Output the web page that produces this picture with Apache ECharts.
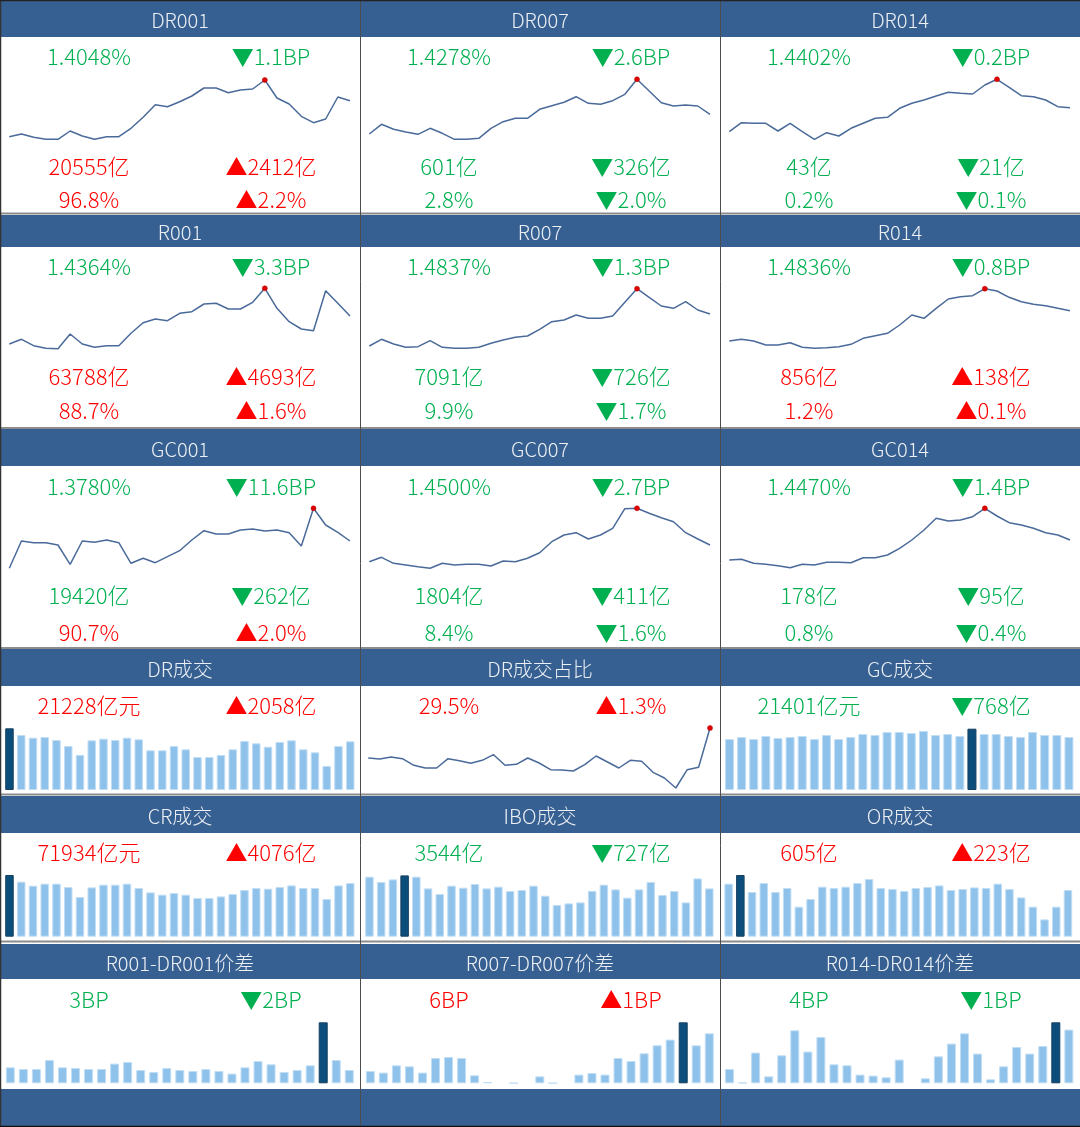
<!DOCTYPE html>
<html><head><meta charset="utf-8">
<script src="https://cdn.jsdelivr.net/npm/echarts@6/dist/echarts.min.js"></script>
<style>html,body{margin:0;padding:0;background:#fff}#c{width:1080px;height:1127px}</style>
</head><body><div id="c"></div>
<script>
// ---------- titles ----------
const headerTitles = [
  ['DR001','DR007','DR014'],
  ['R001','R007','R014'],
  ['GC001','GC007','GC014'],
  ['DR成交','DR成交占比','GC成交'],
  ['CR成交','IBO成交','OR成交'],
  ['R001-DR001价差','R007-DR007价差','R014-DR014价差']
];
// ---------- rate panels (rows 1-3) ----------
const rateTexts    = ['1.4048%','1.4278%','1.4402%','1.4364%','1.4837%','1.4836%','1.3780%','1.4500%','1.4470%'];
const rateChanges  = ['▼1.1BP','▼2.6BP','▼0.2BP','▼3.3BP','▼1.3BP','▼0.8BP','▼11.6BP','▼2.7BP','▼1.4BP'];
const volTexts     = ['20555亿','601亿','43亿','63788亿','7091亿','856亿','19420亿','1804亿','178亿'];
const volChanges   = ['▲2412亿','▼326亿','▼21亿','▲4693亿','▼726亿','▲138亿','▼262亿','▼411亿','▼95亿'];
const shareTexts   = ['96.8%','2.8%','0.2%','88.7%','9.9%','1.2%','90.7%','8.4%','0.8%'];
const shareChanges = ['▲2.2%','▼2.0%','▼0.1%','▲1.6%','▼1.7%','▲0.1%','▲2.0%','▼1.6%','▼0.4%'];
// ---------- summary panels (rows 4-6) ----------
const sumTexts   = ['21228亿元','29.5%','21401亿元','71934亿元','3544亿','605亿','3BP','6BP','4BP'];
const sumChanges = ['▲2058亿','▲1.3%','▼768亿','▲4076亿','▼727亿','▲223亿','▼2BP','▲1BP','▼1BP'];

// ---------- series (relative levels) ----------
const dr001Line = [8.3,11,7.7,5.7,5.7,14,9,5.7,8.3,8.3,16.7,27.7,40.3,38.3,43.3,49,57,57,52.3,55,56,65,47,41,28.7,22.3,26,48,44.3];
const dr007Line = [11,20.7,15.7,13,10.7,16.7,11.7,5.7,5.7,6.7,16.7,23.3,26.7,26.7,35.7,39.3,42.7,48.3,41.7,40.7,44.3,50.7,65.7,54,42.3,39,40,39,30.7];
const dr014Line = [13.3,22.3,21.7,21.7,14,21.7,13.3,5.7,12.3,9,16.7,21.7,26.7,27.7,36.7,41.7,45,49,52.7,51.7,51,60,65.7,57.7,49.3,48.3,45,38.3,37.3];
const r001Line  = [11,15.7,9.3,6.7,6.3,21,11,7.7,9.3,9.3,21.7,32.3,36,34.3,41.7,43.3,51,51.7,46,46,52.7,66.7,46.7,33.3,26,24.3,64.3,51.7,39];
const r007Line  = [9,15.7,11,7.7,8.3,14.3,7.7,6.7,6.7,7.7,11.7,15,17.7,19,25.7,33.3,35,40,36.7,36.7,39,52.7,66.3,57.7,49,46.7,53.3,45,41];
const r014Line  = [14,15.7,14,10,10,12.3,7.7,6.7,7.3,8.3,10.7,16.7,19.3,21.7,30,40,36.7,46.7,56,58.3,59.3,66.3,64,57.7,53.3,50.7,49.3,46.7,44.3];
const gc001Line = [6.7,34,32.3,32.3,30,10.7,34,32.7,35,32.3,11.7,16.7,12.3,18.3,24.3,35,44.3,41,41,45,46,44,45,42.3,29,66.7,50,42.7,34];
const gc007Line = [13.3,17.7,11.7,10,8.3,6.7,11.7,10,10.7,10.7,9,14,13.3,16.7,22.3,33.3,40,42.3,36,40,46.7,66.3,66.7,61.7,57.3,53.3,42.3,36,30];
const gc014Line = [15,15.7,11.7,10.7,9.3,7.3,10.7,10,12.7,12.7,12.3,17.3,17.3,20,26.7,35,45,56.7,54,55,58.3,66.7,59,52.3,50,46.7,42.3,40,35];
const drShareLine = [34,33,35,33.3,26.7,24,24,33.3,31.3,28.7,31.7,37.3,26.7,27.7,34,29,22.3,22,21,27.3,36,30,24,31.7,30.7,19.7,14,4,22.3,24.7,64];

const drVolBars  = [61.7,55,52.3,53,50,44,35,49.7,51.3,50,52.3,50.7,39.7,39.7,44,40.7,33,33,35,40.7,49,46.7,43.3,48,49.7,40.7,37.7,24,44,48.7];
const gcVolBars  = [51,53,51,54,52,53,54,51,55,51,53,56,55,58,58,57,59,55,56,54,61.3,56,56,54,53,58,55,55,53];
const crVolBars  = [61.7,55,51,53,53,49.7,39.7,49.3,52,52,53,48.7,44.3,42,43.7,42,38.7,38.7,40.3,42.7,46.7,48.7,48,49.7,51.3,48.7,48.7,37.7,51.3,53.7];
const iboVolBars = [60,54.7,57.3,61.3,60,48.3,42.7,51,49,52.7,48.3,50,45.7,46.7,51,41,31.7,33.3,34.3,45.7,52,47.3,39,47.3,54.7,41.7,45.7,34.3,58.3,48.3];
const orVolBars  = [53,61.7,44.7,53.7,44.7,48.7,30,37.7,50,48.7,50,53.7,57.7,48.7,47.7,45.7,48.7,49.7,51.3,46.7,47.7,49.3,48.7,53,47.7,39.3,30,17.3,30,46.7];
const spread001Bars = [16,14.3,14.3,23.3,16,15.3,14.3,14.3,19.7,21.3,13.3,11.3,15.3,13.3,12.3,14.3,12.3,9.7,16,22.3,19,11.3,13.3,18,61,23.3,13.3];
const spread007Bars = [12.3,10.7,18,17,10.7,25.3,26.3,25.3,8,1.3,0,0.3,0,7,0.3,0,8.7,10.3,8.7,25.3,22.3,30,38,43.7,61,38,50];
const spread014Bars = [14.3,0.7,30.7,7,28,53,31.7,46.3,19,18,8.7,7.7,6,23.7,0,5,27,39.7,50,29.7,4,17,36.3,29.7,37.3,61,53.7];

// ---------- layout ----------
const RED = '#ff0000', GREEN = '#00b050', HEAD = '#376092';
const FONT = '"Noto Sans CJK SC","Noto Sans",sans-serif';
const colX = [0, 360, 720];
const headerBands = [[1,37],[215,247],[429,466],[649,686],[796,833],[944,979]];
const headerTextY = [20, 232, 449, 669, 816, 963];
const separatorsY = [213.5, 428, 648, 794.5, 941.5];

const lineCharts = [
  {d: dr001Line, c:0, top:75, left:9.3, w:340.7}, {d: dr007Line, c:1, top:75, left:9.3, w:340.7}, {d: dr014Line, c:2, top:75, left:9.3, w:340.7},
  {d: r001Line,  c:0, top:285, left:9.3, w:340.7}, {d: r007Line,  c:1, top:285, left:9.3, w:340.7}, {d: r014Line,  c:2, top:285, left:9.3, w:340.7},
  {d: gc001Line, c:0, top:505, left:9.3, w:340.7}, {d: gc007Line, c:1, top:505, left:9.3, w:340.7}, {d: gc014Line, c:2, top:505, left:9.3, w:340.7},
  {d: drShareLine, c:1, top:722, left:8.3, w:341.7}
];
const barCharts = [
  {d: drVolBars,  c:0, top:720,   left:3.6, w:352.5, bw:8.5},
  {d: gcVolBars,  c:2, top:720,   left:3.4, w:351.6, bw:9},
  {d: crVolBars,  c:0, top:866.7, left:3.6, w:352.5, bw:8.5},
  {d: iboVolBars, c:1, top:866.7, left:3.6, w:351.6, bw:8.5},
  {d: orVolBars,  c:2, top:866.7, left:2.8, w:351,   bw:8.5},
  {d: spread001Bars, c:0, top:1013.3, left:3.8, w:352,   bw:9},
  {d: spread007Bars, c:1, top:1013.3, left:3.8, w:352,   bw:9},
  {d: spread014Bars, c:2, top:1013.3, left:3.0, w:352.4, bw:9}
];

const grid = [], xAxis = [], yAxis = [], series = [];
function addAxes(g, n, gap) {
  const i = grid.length;
  grid.push({left: colX[g.c] + g.left, top: g.top, width: g.w, height: 70});
  xAxis.push({type:'category', gridIndex:i, boundaryGap: gap, show:false,
              data: Array.from({length:n}, (_, k) => String(k + 1))});
  yAxis.push({type:'value', gridIndex:i, min:0, max:70, show:false});
  return i;
}
lineCharts.forEach(g => {
  const i = addAxes(g, g.d.length, false);
  series.push({type:'line', xAxisIndex:i, yAxisIndex:i, data:g.d, symbol:'none', silent:true,
    lineStyle:{color:'#4a6a9a', width:1.5},
    markPoint:{data:[{type:'max'}], symbol:'circle', symbolSize:5, silent:true,
      itemStyle:{color:'#e00000', borderColor:'#b00000', borderWidth:0.5}, label:{show:false}}});
});
barCharts.forEach(g => {
  const i = addAxes(g, g.d.length, true);
  const mx = g.d.indexOf(Math.max(...g.d));
  series.push({type:'bar', xAxisIndex:i, yAxisIndex:i, barWidth:g.bw, silent:true,
    data: g.d.map((v, k) => ({value:v, itemStyle: k === mx
      ? {color:'#0b4e7c', borderColor:'#17405f', borderWidth:1}
      : {color:'#8fc2ea', borderColor:'#c2def5', borderWidth: v > 0 ? 1 : 0}}))});
});

// ---------- graphic: headers, texts, lines ----------
const graphic = [];
const colorOf = s => s.charAt(0) === '▲' ? RED : GREEN;
function txt(x, y, s, fill, size, weight) {
  graphic.push({type:'text', x, y, z:20, silent:true,
    style:{text:s, fill, fontSize:size, fontWeight:weight || 300, fontFamily:FONT, align:'center', verticalAlign:'middle'}});
}
headerBands.forEach((b, r) => {
  colX.forEach((x0, c) => {
    graphic.push({type:'rect', z:5, silent:true, shape:{x:x0, y:b[0], width:360, height:b[1]-b[0]}, style:{fill:HEAD}});
    txt(x0 + 180, headerTextY[r], headerTitles[r][c], '#eceff4', 20);
  });
});
colX.forEach(x0 => graphic.push({type:'rect', z:5, silent:true, shape:{x:x0, y:1089, width:360, height:37}, style:{fill:HEAD}}));

const rowY = [[57,167,200],[267,377,411],[487,596,633]];
for (let k = 0; k < 9; k++) {
  const r = Math.floor(k / 3), x0 = colX[k % 3];
  const ys = rowY[r];
  txt(x0 + 89, ys[0], rateTexts[k], colorOf(rateChanges[k]), 22);
  txt(x0 + 271, ys[0], rateChanges[k], colorOf(rateChanges[k]), 22);
  txt(x0 + 89, ys[1], volTexts[k], colorOf(volChanges[k]), 22);
  txt(x0 + 271, ys[1], volChanges[k], colorOf(volChanges[k]), 22);
  txt(x0 + 89, ys[2], shareTexts[k], colorOf(shareChanges[k]), 22);
  txt(x0 + 271, ys[2], shareChanges[k], colorOf(shareChanges[k]), 22);
}
const sumY = [706, 853, 1000];
for (let k = 0; k < 9; k++) {
  const r = Math.floor(k / 3), x0 = colX[k % 3];
  txt(x0 + 89, sumY[r], sumTexts[k], colorOf(sumChanges[k]), 22);
  txt(x0 + 271, sumY[r], sumChanges[k], colorOf(sumChanges[k]), 22);
}
// separators
separatorsY.forEach(y => graphic.push({type:'line', z:30, silent:true, shape:{x1:0, y1:y, x2:1080, y2:y}, style:{stroke:'#8c8c8c', lineWidth:2}}));
[360.5, 720.5].forEach(x => graphic.push({type:'line', z:30, silent:true, shape:{x1:x, y1:0, x2:x, y2:1127}, style:{stroke:'#4d4d4d', lineWidth:1}}));
graphic.push({type:'line', z:30, silent:true, shape:{x1:0.5, y1:0, x2:0.5, y2:1127}, style:{stroke:'#333', lineWidth:1.5}});
graphic.push({type:'line', z:30, silent:true, shape:{x1:0, y1:0.5, x2:1080, y2:0.5}, style:{stroke:'#222', lineWidth:1.5}});
graphic.push({type:'line', z:30, silent:true, shape:{x1:0, y1:1126.5, x2:1080, y2:1126.5}, style:{stroke:'#111', lineWidth:1.5}});

const chart = echarts.init(document.getElementById('c'), null, {renderer:'canvas'});
chart.setOption({animation:false, backgroundColor:'#ffffff', grid, xAxis, yAxis, series, graphic});
</script></body></html>
